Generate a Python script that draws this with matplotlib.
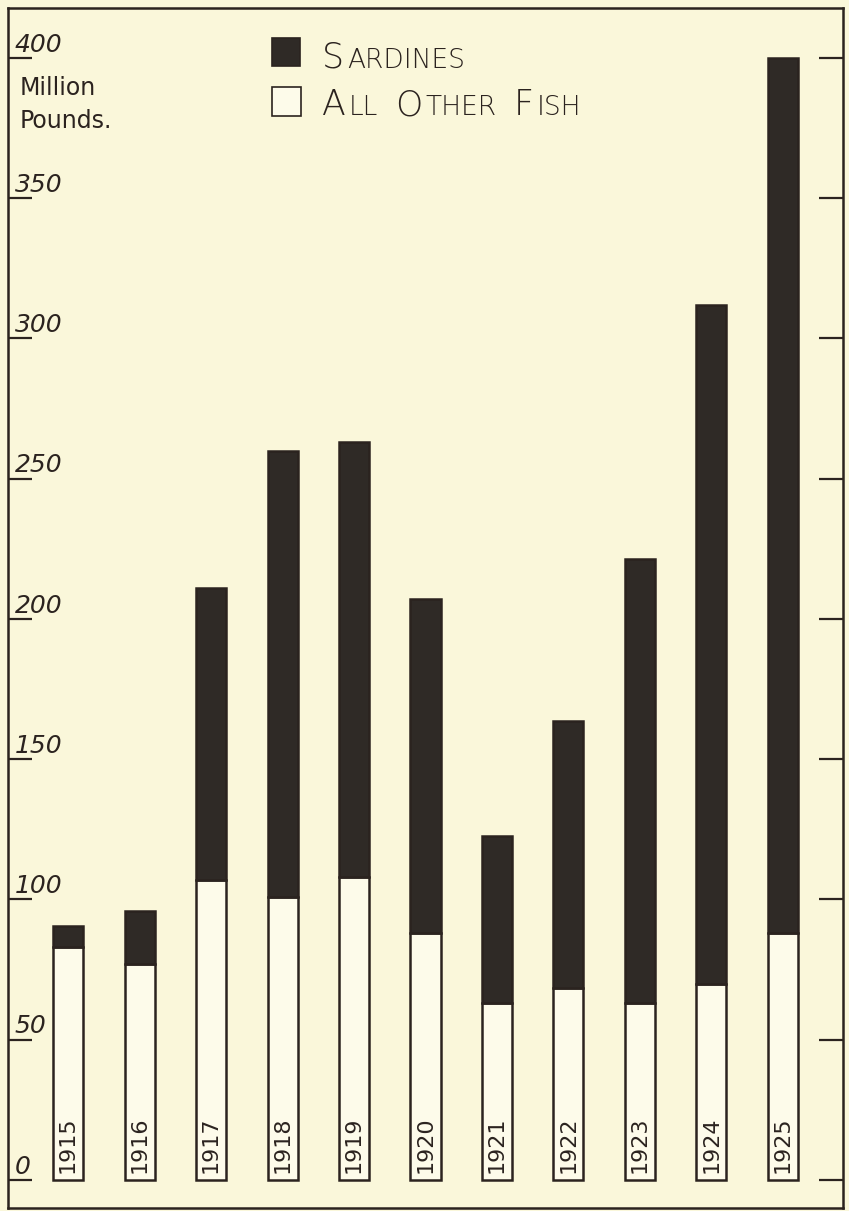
import matplotlib
matplotlib.use("Agg")
from matplotlib import pyplot as plt
from matplotlib.patches import Rectangle
from matplotlib.transforms import IdentityTransform
import numpy as np

years = ['1915', '1916', '1917', '1918', '1919', '1920',
         '1921', '1922', '1923', '1924', '1925']
other_fish = [83, 77, 107, 101, 108, 88, 63, 68.5, 63, 70, 88]
sardines = [7.5, 19, 104, 159, 155, 119, 59.5, 95, 158.5, 242, 312]
yticks = [0, 50, 100, 150, 200, 250, 300, 350, 400]

bg = '#faf7da'
light = '#fdfbea'
ink = '#2b231f'
dark = '#2f2a26'

W, H = 849, 1211
fig = plt.figure(figsize=(W / 100, H / 100), dpi=100)
fig.patch.set_facecolor(bg)
ax = fig.add_axes([8 / W, 1 - 1208 / H, 835 / W, 1200 / H])
ax.set_facecolor(bg)

x = np.arange(len(years))
ax.bar(x, other_fish, width=0.42, color=light, edgecolor=ink, linewidth=1.8)
ax.bar(x, sardines, width=0.42, bottom=other_fish, color=dark,
       edgecolor=ink, linewidth=1.8)

ax.set_xlim(-0.84, 10.84)
ax.set_ylim(-9.98, 417.8)
ax.set_xticks([])
ax.set_yticks(yticks)
ax.tick_params(axis='y', direction='in', length=17, width=1.6, color=ink,
               left=True, right=True, labelleft=False)
for s in ax.spines.values():
    s.set_color(ink)
    s.set_linewidth(1.8)

# tick labels sit just inside the frame, underlined by the tick
for v in yticks:
    ax.annotate(str(v), xy=(0, v), xycoords=ax.get_yaxis_transform(),
                xytext=(5, 1), textcoords='offset points',
                ha='left', va='bottom', fontsize=18, style='italic', color=ink)

for xi, yr in zip(x, years):
    ax.annotate(yr, xy=(xi, 0), xytext=(0, 5), textcoords='offset points',
                rotation=90, ha='center', va='bottom', fontsize=16, color=ink)

fig.text(20 / W, 1 - 95 / H, 'Million', fontsize=17, color=ink)
fig.text(20 / W, 1 - 128 / H, 'Pounds.', fontsize=17, color=ink)

# legend squares
fig.patches.append(Rectangle((272, H - 66), 28, 28, transform=IdentityTransform(),
                             facecolor=dark, edgecolor=ink, lw=1.2))
fig.patches.append(Rectangle((272, H - 116), 29, 29, transform=IdentityTransform(),
                             facecolor=light, edgecolor=ink, lw=1.2))

renderer = fig.canvas.get_renderer()


def small_caps(px, py, text, big, small):
    cur = px
    for word in text.split(' '):
        for s, size in ((word[0], big), (word[1:].upper(), small)):
            if not s:
                continue
            t = fig.text(cur, H - py, s, fontsize=size, color=ink,
                         transform=IdentityTransform(), ha='left',
                         va='baseline', fontweight='light')
            cur = t.get_window_extent(renderer).x1 + 3
        cur += 14


small_caps(322, 68, 'Sardines', 25, 19)
small_caps(322, 115, 'All Other Fish', 25, 19)

fig.savefig('out.png', dpi=100, facecolor=bg)
